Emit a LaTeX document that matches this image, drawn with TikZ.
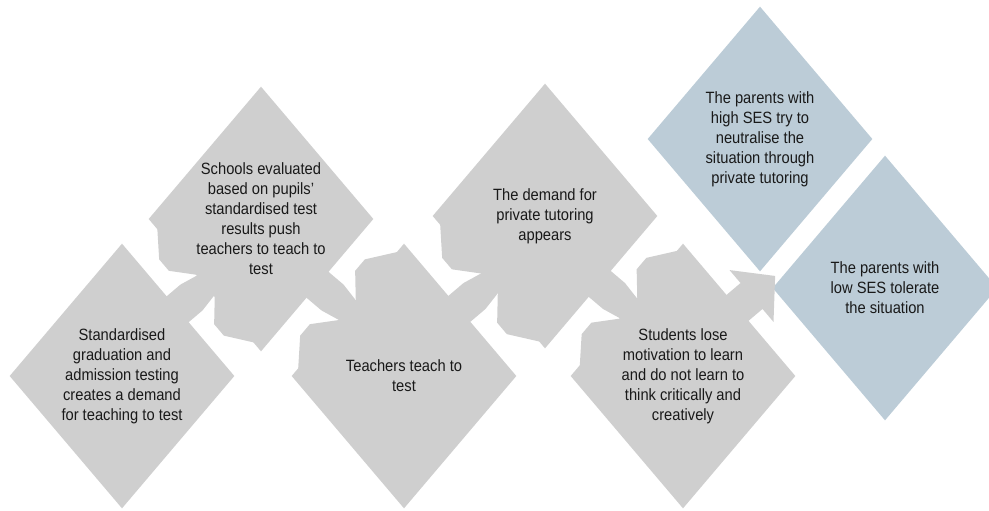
\documentclass[tikz,border=0pt]{standalone}
\usepackage{fontspec}
\setmainfont{Liberation Sans}[FakeStretch=0.9]
\usetikzlibrary{shapes.geometric,calc}

\definecolor{stepgray}{RGB}{207,207,207}
\definecolor{stepblue}{RGB}{188,204,215}

\tikzset{
  stage/.style={diamond, fill=stepgray, minimum width=4.5cm, minimum height=5.3cm, inner sep=0pt},
  result/.style={stage, fill=stepblue},
  caption/.style={align=center, text=black!90, font=\fontsize{9.3}{11.4}\selectfont},
  pointer/.style={fill=stepgray},
}

\begin{document}
\begin{tikzpicture}[x=0.02cm,y=-0.02cm]
  \useasboundingbox (0,0) rectangle (989,510);
  % the five steps, zigzagging up and down
  \node[stage] (s1) at (122,376) {};
  \node[stage] (s2) at (261,219) {};
  \node[stage] (s3) at (404,376) {};
  \node[stage] (s4) at (545,216) {};
  \node[stage] (s5) at (683,376) {};
  % the two outcomes
  \node[result] (s6) at (760,139) {};
  \node[result] (s7) at (885,288) {};
  \coordinate (fork) at ($(s5)+(137,-160)$);

  % arrows between the steps: shaft plus the two barbs on the next step
  \foreach \a/\b/\r in {s1/s2/40.3, s2/s3/-40.3, s3/s4/40.3, s4/s5/-40.3} {
    \begin{scope}[shift={($(\a)!0.5!(\b)$)}, rotate=\r]
      \fill[pointer] (-30,-17) -- (0,-17) -- (19.5,-13) -- (30,-13)
        -- (30,13) -- (19.5,13) -- (0,17) -- (-30,17) -- cycle;
      \fill[pointer] (0,-35) -- (19.5,-13) -- (30,-13) -- (30,-80) -- (19.5,-76) -- (0,-50) -- cycle;
      \fill[pointer] (0,35) -- (19.5,13) -- (30,13) -- (30,80) -- (19.5,76) -- (0,50) -- cycle;
    \end{scope}
  }
  % last arrow, pointing between the two outcomes
  \begin{scope}[shift={($(s5)!0.5!(fork)$)}, rotate=40.3]
    \fill[pointer] (-30,-17) -- (0,-17) -- (0,-34) -- (31,0) -- (0,34) -- (0,17) -- (-30,17) -- cycle;
  \end{scope}

  % texts
  \node[caption] (t1) at (s1) {Standardised\\graduation and\\admission testing\\creates a demand\\for teaching to test};
  \node[caption] (t2) at (s2) {Schools evaluated\\based on pupils'\\standardised test\\results push\\teachers to teach to\\test};
  \node[caption] (t3) at (s3) {Teachers teach to\\test};
  \node[caption] (t4) at (s4) {The demand for\\private tutoring\\appears};
  \node[caption] (t5) at (s5) {Students lose\\motivation to learn\\and do not learn to\\think critically and\\creatively};
  \node[caption] (t6) at (s6) {The parents with\\high SES try to\\neutralise the\\situation through\\private tutoring};
  \node[caption] (t7) at (s7) {The parents with\\low SES tolerate\\the situation};
\end{tikzpicture}
\end{document}
